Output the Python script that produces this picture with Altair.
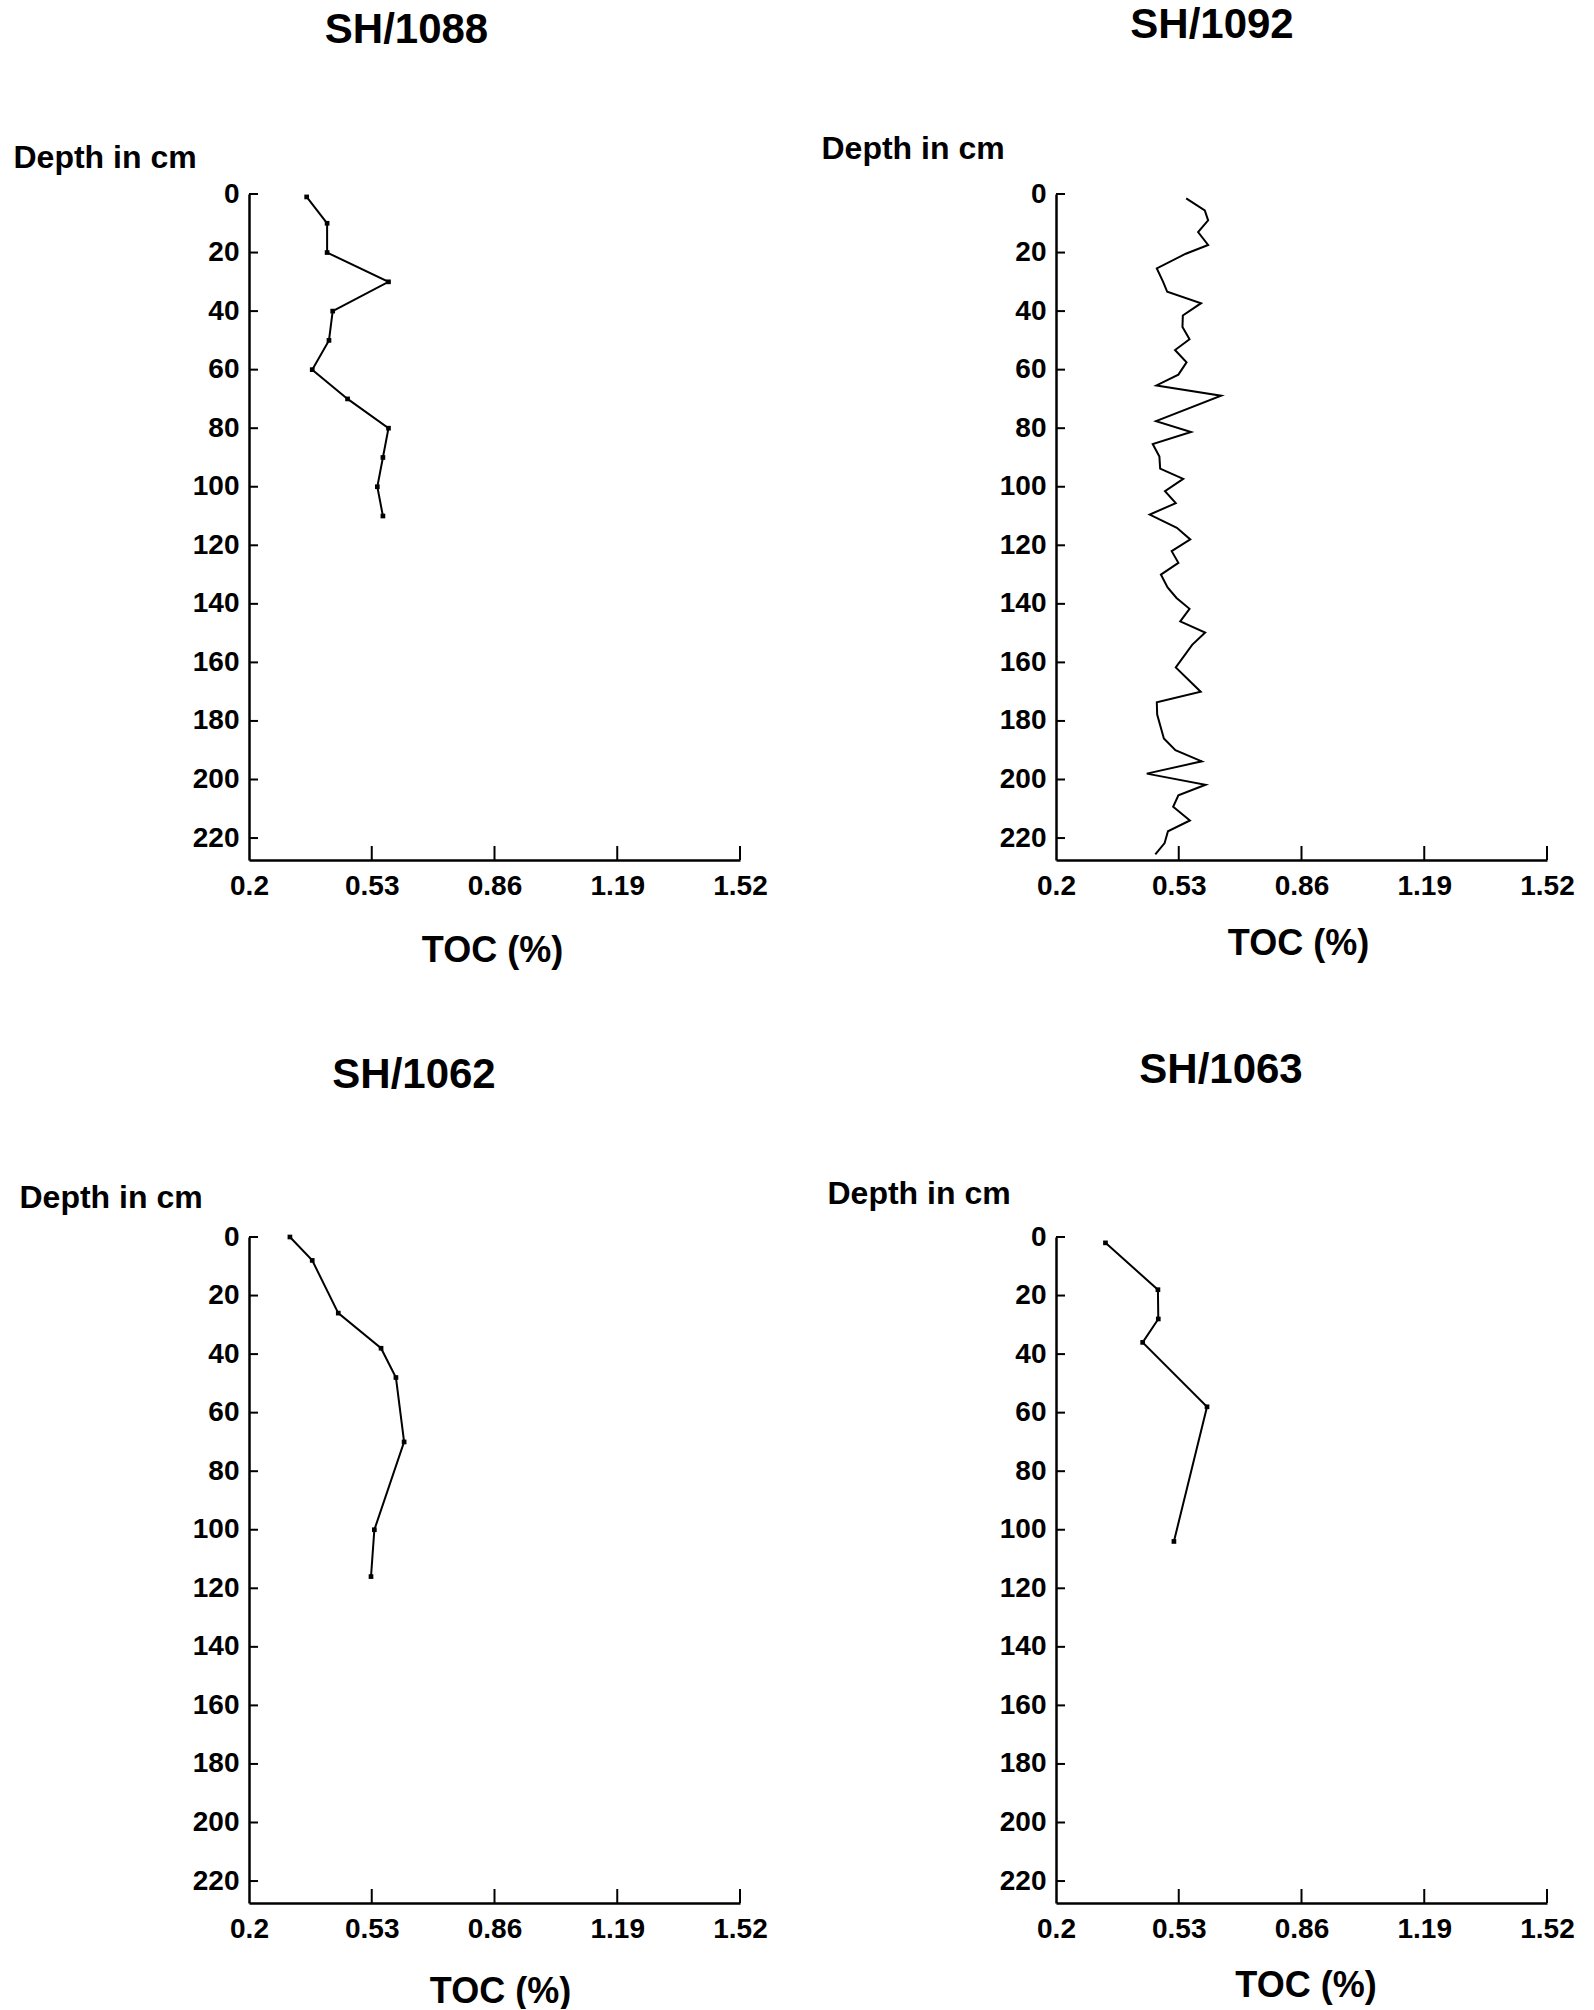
import altair as alt
import pandas as pd

# ---------------- data ----------------
X_TICKS = [0.2, 0.53, 0.86, 1.19, 1.52]
Y_TICKS = [0, 20, 40, 60, 80, 100, 120, 140, 160, 180, 200, 220]

sh1088_depth = [1, 10, 20, 30, 40, 50, 60, 70, 80, 90, 100, 110]
sh1088_toc = [0.355, 0.41, 0.41, 0.575, 0.425, 0.415, 0.37, 0.465, 0.575, 0.56, 0.545, 0.56]

sh1092_depth = [1.5, 5.6, 9, 13, 17.4, 20.4, 25.4, 30, 33.4, 37.3,
                41.5, 45.4, 49.6, 53.3, 57.5, 61.7, 65.4, 68.9, 77.6, 81.3,
                85.4, 89.7, 93.8, 97.3, 101.5, 105.6, 109.5, 114, 118, 122,
                126, 130, 134.4, 138, 141.7, 146, 149.8, 154, 161.7, 170,
                173.6, 177.8, 186, 190, 193.8, 198, 201.8, 205.4, 209.3, 214,
                217.7, 221.7, 225.6]
sh1092_toc = [0.550, 0.600, 0.609, 0.582, 0.609, 0.549, 0.471, 0.488, 0.499, 0.590,
              0.541, 0.540, 0.559, 0.520, 0.551, 0.529, 0.470, 0.644, 0.469, 0.563,
              0.460, 0.478, 0.480, 0.542, 0.493, 0.522, 0.452, 0.525, 0.561, 0.511,
              0.529, 0.482, 0.500, 0.524, 0.559, 0.534, 0.601, 0.566, 0.522, 0.589,
              0.471, 0.472, 0.490, 0.521, 0.592, 0.444, 0.602, 0.529, 0.515, 0.560,
              0.501, 0.492, 0.467]

sh1062_depth = [0, 8, 26, 38, 48, 70, 100, 116]
sh1062_toc = [0.31, 0.37, 0.44, 0.555, 0.595, 0.617, 0.537, 0.528]

sh1063_depth = [2, 18, 28, 36, 58, 104]
sh1063_toc = [0.333, 0.474, 0.475, 0.433, 0.606, 0.517]

# ---------------- layout ----------------
W = 491
H = 666
FONT = "Liberation Sans"


def panel(title, depths, tocs, markers, tdx, toff, ytx, yty, xtx, xty):
    df = pd.DataFrame({"depth": depths, "toc": tocs})
    xs = alt.Scale(domain=[0.2, 1.52], nice=False, zero=False)
    ys = alt.Scale(domain=[0, 227.5], reverse=True, nice=False, zero=False)
    xaxis = alt.Axis(values=X_TICKS, format=".2~f", title="TOC (%)",
                     ticks=False, tickSize=0, labelPadding=12, labelFlush=False,
                     labelFontSize=28, titleFontSize=36,
                     titleX=xtx, titleY=xty, titleAlign="center", titleBaseline="middle",
                     domainWidth=2.5, grid=False)
    yaxis = alt.Axis(values=Y_TICKS, title="Depth in cm", titleAngle=0,
                     titleAlign="left", titleBaseline="middle", titleX=ytx, titleY=yty,
                     ticks=False, tickSize=0, labelPadding=10, labelFontSize=28,
                     titleFontSize=32, domainWidth=2.5, grid=False)
    X = lambda: alt.X("toc:Q", scale=xs, axis=xaxis)
    Y = lambda: alt.Y("depth:Q", scale=ys, axis=yaxis)
    base = alt.Chart(df)
    line = base.mark_line(color="black", strokeWidth=2).encode(
        x=X(), y=Y(), order=alt.Order("depth:Q"))
    layers = [line]
    if markers:
        layers.append(base.mark_square(size=22, color="black", opacity=1).encode(
            x=X(), y=Y()))
    ytick = alt.Chart(pd.DataFrame({"depth": Y_TICKS})).mark_rule(
        color="black", strokeWidth=2).encode(
        y=Y(), x=alt.value(0), x2=alt.value(9))
    xtick = alt.Chart(pd.DataFrame({"toc": X_TICKS[1:]})).mark_rule(
        color="black", strokeWidth=2).encode(
        x=X(), y=alt.value(H), y2=alt.value(H - 14))
    layers += [ytick, xtick]
    return alt.layer(*layers).properties(
        width=W, height=H,
        title=alt.TitleParams(text=title, font=FONT, fontSize=42, fontWeight="bold",
                              color="black", anchor="start", align="center",
                              dx=tdx, frame="group", offset=toff, baseline="middle"),
    )


p1 = panel("SH/1088", sh1088_depth, sh1088_toc, True, 157.5, 69, -236, -37, 243, 90)
p2 = panel("SH/1092", sh1092_depth, sh1092_toc, False, 156, 66, -235, -45.5, 242, 83.5)
p3 = panel("SH/1062", sh1062_depth, sh1062_toc, True, 165, 64, -230, -40, 251, 88)
p4 = panel("SH/1063", sh1063_depth, sh1063_toc, True, 165, 65.6, -229, -43.4, 249.5, 82)

chart = alt.concat(
    p1, p2, p3, p4, columns=2,
    spacing={"row": 377, "column": 316}, bounds="flush",
).properties(
    padding={"left": 13, "top": 3, "right": 0, "bottom": 0},
    background="white",
).configure_view(stroke=None).configure_axis(
    domainColor="black", labelColor="black", titleColor="black",
    labelFont=FONT, titleFont=FONT, labelFontWeight="bold", titleFontWeight="bold",
)

chart.save("out.html", embed_options={"renderer": "svg", "actions": False})
